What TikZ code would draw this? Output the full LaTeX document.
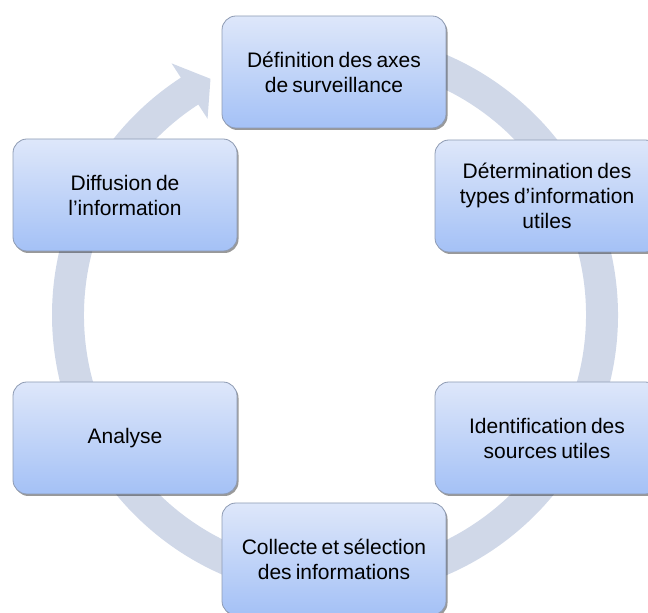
\documentclass[tikz,border=0pt]{standalone}
\usepackage{fontspec}
\setmainfont{Liberation Sans}[WordSpace=0.7]
\usetikzlibrary{shadows,calc}
\definecolor{ringcol}{HTML}{D0D8E8}
\definecolor{boxtop}{HTML}{DEE7FA}
\definecolor{boxbot}{HTML}{A4C1F6}
\definecolor{boxline}{HTML}{8E9BB3}
\tikzset{
  stagebox/.style={rectangle, rounded corners=14pt,
    minimum width=224pt, minimum height=112pt, inner sep=0pt,
    top color=boxtop, bottom color=boxbot, draw=boxline, line width=0.8pt,
    align=center, font=\fontsize{21}{25}\selectfont,
    drop shadow={shadow xshift=1.5pt, shadow yshift=-2pt, fill=black, opacity=0.4}},
  ring/.style={fill=ringcol}
}
\begin{document}
\begin{tikzpicture}[x=1pt,y=1pt]
\useasboundingbox (0,0) rectangle (648,613);
\clip (0,0) rectangle (648,613);
\coordinate (C) at (335,298);
% circular arrow running clockwise behind the stages
\fill[ring] ($(C)+(95:283)$) arc[start angle=95, end angle=-237, radius=283]
  -- ($(C)+(-237:300)$) -- ($(C)+(-242.2:267)$) -- ($(C)+(-237:234)$)
  -- ($(C)+(-237:251)$) arc[start angle=-237, end angle=95, radius=251] -- cycle;
% stages of the cycle
\node[stagebox] (axes) at (334,541) {Définition des axes\\de surveillance};
\node[stagebox] (types) at (547,417) {Détermination des\\types d’information\\utiles};
\node[stagebox] (sources) at (547,175) {Identification des\\sources utiles};
\node[stagebox] (collecte) at (334,54) {Collecte et sélection\\des informations};
\node[stagebox] (analyse) at (125,175) {Analyse};
\node[stagebox] (diffusion) at (125,418) {Diffusion de\\l’information};
\end{tikzpicture}
\end{document}
